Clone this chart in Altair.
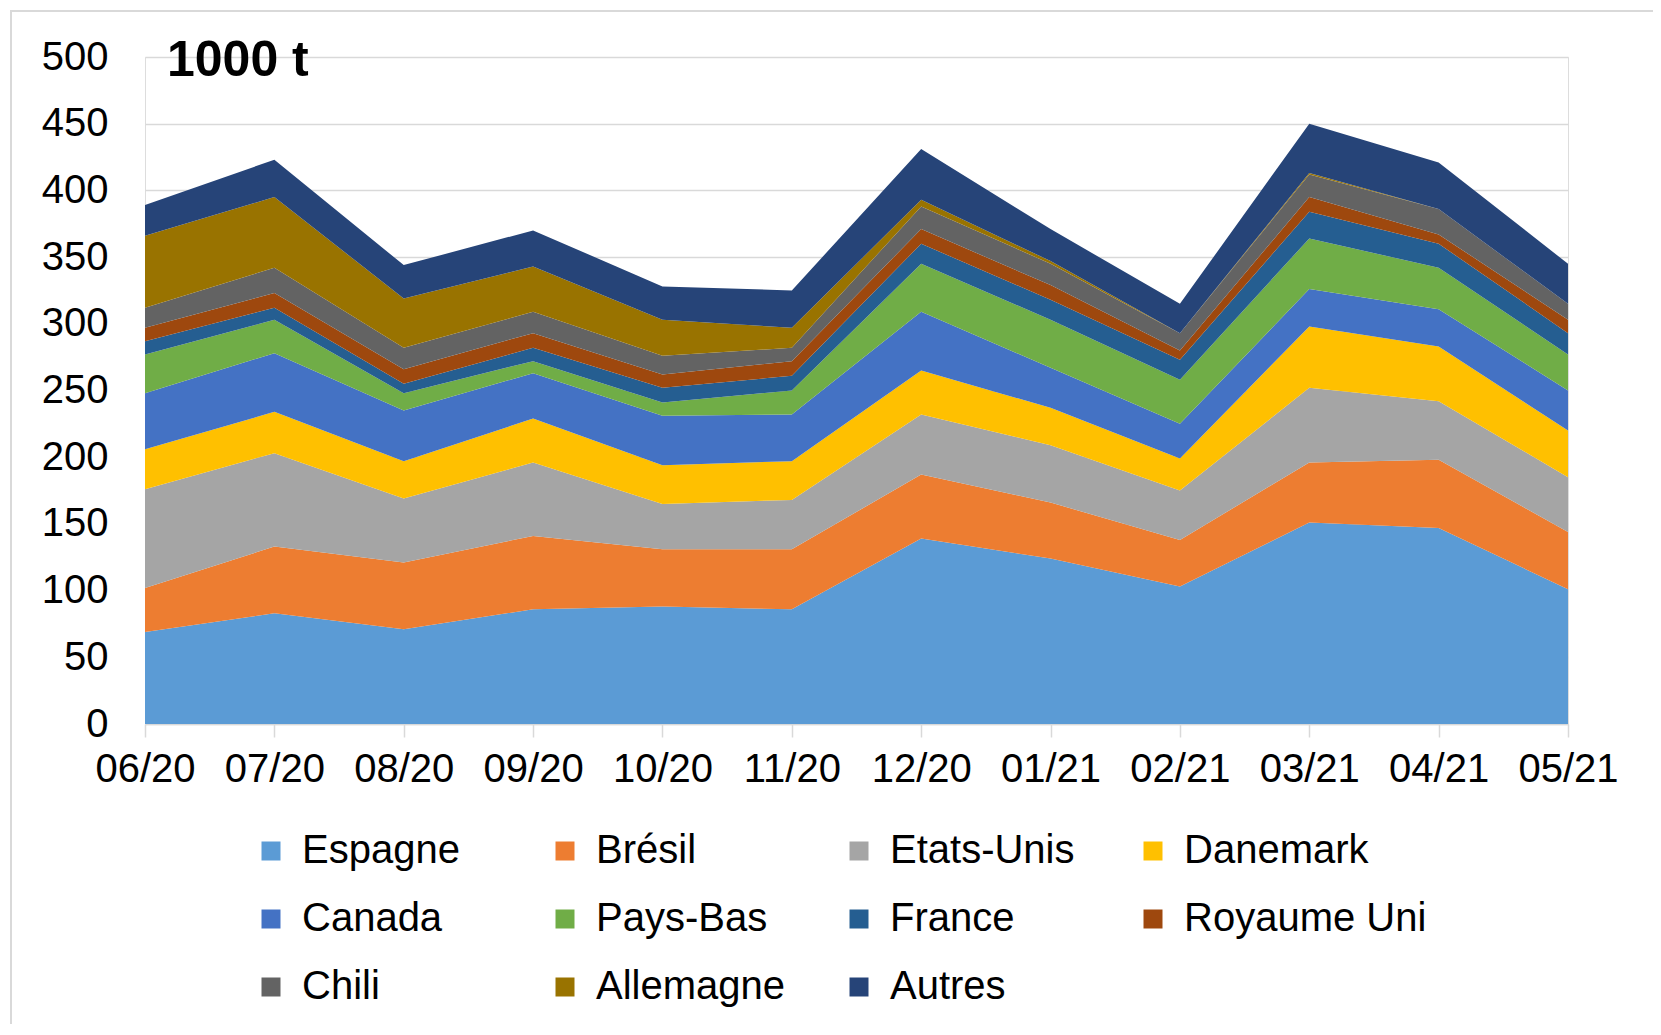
import altair as alt
import pandas as pd

months = ["06/20", "07/20", "08/20", "09/20", "10/20", "11/20",
          "12/20", "01/21", "02/21", "03/21", "04/21", "05/21"]

series = ["Espagne", "Brésil", "Etats-Unis", "Danemark", "Canada", "Pays-Bas",
          "France", "Royaume Uni", "Chili", "Allemagne", "Autres"]

colors = ["#5B9BD5", "#ED7D31", "#A5A5A5", "#FFC000", "#4472C4", "#70AD47",
          "#255E91", "#9E480E", "#636363", "#997300", "#264478"]

espagne = [69, 83, 71, 86, 88, 86, 139, 124, 103, 151, 147, 101]
bresil = [33, 50, 50, 55, 43, 45, 48, 42, 35, 45, 51, 43]
etats_unis = [74, 70, 48, 55, 34, 37, 45, 43, 37, 56, 44, 41]
danemark = [30, 31, 28, 33, 29, 29, 33, 28, 24, 46, 41, 35]
canada = [42, 44, 38, 34, 37, 35, 44, 30, 26, 28, 28, 30]
pays_bas = [29, 25, 13, 9, 10, 18, 36, 36, 33, 38, 31, 27]
france = [10, 9, 7, 10, 11, 11, 15, 15, 15, 20, 18, 16]
royaume_uni = [10, 11, 11, 11, 10, 11, 11, 11, 7, 11, 7, 10]
chili = [15, 19, 16, 16, 14, 10, 17, 16, 13, 17, 19, 12]
allemagne = [54, 53, 37, 34, 27, 15, 5, 2, 0, 1, 0, 0]
autres = [23, 28, 25, 27, 25, 28, 38, 24, 22, 37, 35, 30]

y_ticks = [0, 50, 100, 150, 200, 250, 300, 350, 400, 450, 500]

values = [espagne, bresil, etats_unis, danemark, canada, pays_bas,
          france, royaume_uni, chili, allemagne, autres]

rows = []
for si, (name, vals) in enumerate(zip(series, values)):
    for m, v in zip(months, vals):
        rows.append({"month": m, "pays": name, "value": v, "order": si})
df = pd.DataFrame(rows)

FONT = "Liberation Sans"

area = alt.Chart(df).mark_area(opacity=1).encode(
    x=alt.X("month:O", sort=months,
            scale=alt.Scale(type="point", padding=0),
            axis=alt.Axis(title=None, labelAngle=0, labelFontSize=40, labelFont=FONT,
                          labelColor="#000000", domainColor="#D9D9D9", domainWidth=1.5,
                          tickColor="#D9D9D9", tickSize=13, tickWidth=1.5,
                          labelPadding=12, grid=False)),
    y=alt.Y("value:Q", stack="zero",
            scale=alt.Scale(domain=[0, 500], nice=False),
            axis=alt.Axis(title=None, values=y_ticks, labelFontSize=40, labelFont=FONT,
                          labelColor="#000000", domain=False, ticks=False,
                          labelPadding=37, gridColor="#D9D9D9", gridWidth=1.5)),
    color=alt.Color("pays:N",
                    scale=alt.Scale(domain=series, range=colors),
                    legend=alt.Legend(title=None, orient="none", legendX=106, legendY=774,
                                      direction="horizontal",
                                      columns=4, gridAlign="all", symbolType="square",
                                      symbolSize=361, symbolStrokeWidth=0, symbolOpacity=1,
                                      labelFontSize=40, labelFont=FONT, labelColor="#000000",
                                      labelOffset=11, columnPadding=0, rowPadding=28,
                                      padding=0, labelLimit=400)),
    order=alt.Order("order:Q", sort="ascending"),
)

one = pd.DataFrame({"t": ["1000 t"]})

title_txt = alt.Chart(one).mark_text(
    align="left", baseline="middle", fontSize=50, fontWeight="bold", font=FONT, color="#000000"
).encode(x=alt.value(22), y=alt.value(4), text="t:N")

frame = alt.Chart(one).mark_rect(
    fill=None, stroke="#D9D9D9", strokeWidth=2
).encode(x=alt.value(-134), x2=alt.value(1700), y=alt.value(-46), y2=alt.value(1200))

chart = alt.layer(frame, area, title_txt).properties(
    width=1423, height=667,
    autosize=alt.AutoSizeParams(type="none"),
    padding={"left": 137, "top": 49, "right": 85, "bottom": 300},
).configure_view(stroke=None).configure(font=FONT)

chart.save("out.html", embed_options={"renderer": "svg", "actions": False})
